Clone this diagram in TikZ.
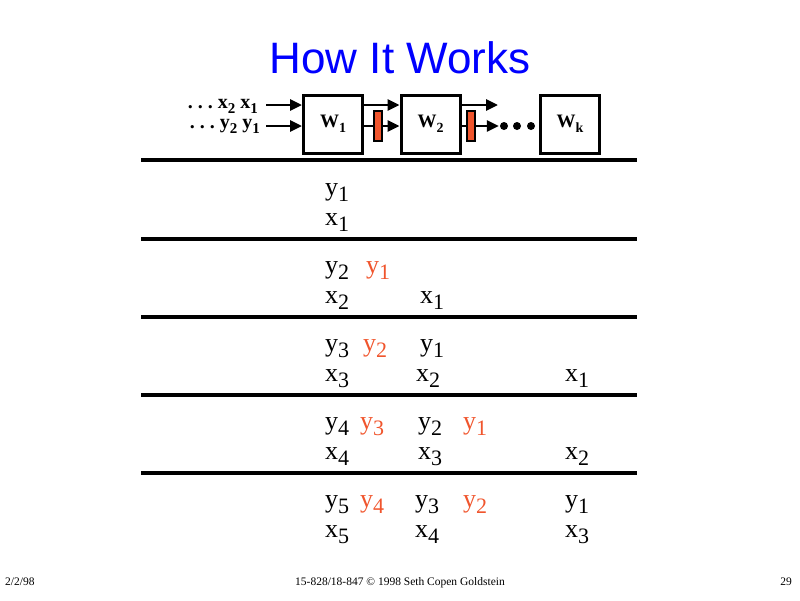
\documentclass[tikz,border=0pt]{standalone}
\usepackage{fontspec}
\setmainfont{Liberation Serif}
\newfontfamily\titlefont{Liberation Sans}
\usetikzlibrary{arrows.meta}
\usetikzlibrary{positioning}
\definecolor{latchred}{RGB}{240,85,45}
\definecolor{slideblue}{RGB}{0,0,255}
\newcommand{\lowsub}[2][22]{\raisebox{-0.25em}{\fontsize{#1}{#1}\selectfont #2}}
\newcommand{\spreaddots}{.\kern5pt.\kern5pt.\kern5pt}
\tikzstyle{cell}=[inner sep=0pt, anchor=base west, font=\fontsize{26}{26}\selectfont]
\tikzstyle{unit}=[draw, line width=3pt, minimum width=59pt, minimum height=58pt, inner sep=0pt, font=\fontsize{19}{19}\selectfont\bfseries]
\tikzstyle{latch}=[draw, line width=1.6pt, fill=latchred, minimum width=8pt, minimum height=30pt, inner sep=0pt]
\tikzstyle{bead}=[circle, fill=black, minimum size=8pt, inner sep=0pt]
\tikzstyle{wire}=[line width=2.8pt]
\tikzstyle{feed}=[wire, -{Triangle[length=12pt,width=11pt]}]
\tikzstyle{rule}=[line width=3.2pt]
\tikzstyle{foot}=[inner sep=0pt, font=\fontsize{11.5}{11.5}\selectfont]

\begin{document}
\begin{tikzpicture}[x=1pt,y=-1pt]
  \useasboundingbox (0,0) rectangle (800,600);

  \node[anchor=base, text=slideblue, font=\titlefont\fontsize{44}{44}\selectfont] (title) at (400,73) {How It Works};

  % pipeline
  \node[unit] (w1) at (333,124) {W\lowsub[14]{1}};
  \node[unit] (w2) at (430.5,124) {W\lowsub[14]{2}};
  \node[unit] (wk) at (570,124) {W\lowsub[14]{k}};
  \node[latch] (latch1) at (378,126) {};
  \node[latch] (latch2) at (471,126) {};
  \foreach \xx/\name in {504/d1, 517/d2, 531/d3}
    \node[bead] (\name) at (\xx,126) {};

  \node[anchor=base east, inner sep=0pt, font=\fontsize{20}{20}\selectfont\bfseries] (inx) at (258,108) {\spreaddots x\lowsub[15]{2} x\lowsub[15]{1}};
  \node[anchor=base east, inner sep=0pt, font=\fontsize{20}{20}\selectfont\bfseries] (iny) at (260,128) {\spreaddots y\lowsub[15]{2} y\lowsub[15]{1}};
  \coordinate (inxend) at (266,105);
  \coordinate (inyend) at (266,126);
  \coordinate (w2out) at (498,105);

  \draw[feed] (inxend) -- ([yshift=19pt]w1.west);
  \draw[feed] (inyend) -- ([yshift=-2pt]w1.west);
  \draw[feed] ([yshift=19pt]w1.east) -- ([yshift=19pt]w2.west);
  \draw[wire] ([yshift=-2pt]w1.east) -- (latch1.west);
  \draw[feed] (latch1.east) -- ([yshift=-2pt]w2.west);
  \draw[feed] ([yshift=19pt]w2.east) -- (w2out);
  \draw[wire] ([yshift=-2pt]w2.east) -- (latch2.west);
  \draw[feed, shorten >=1pt] (latch2.east) -- (d1);

  % time steps
  \foreach \yy in {160, 239, 317, 395, 473}
    \draw[rule] (141,\yy) -- (637,\yy);

  \foreach \pos/\name/\var/\idx/\col in {
      {(325,195)/r1y1/y/1/black}, {(325,225)/r1x1/x/1/black},
      {(325,273)/r2y2/y/2/black}, {(366,273)/r2y1/y/1/latchred},
      {(325,303)/r2x2/x/2/black}, {(420,303)/r2x1/x/1/black},
      {(325,351)/r3y3/y/3/black}, {(363,351)/r3y2/y/2/latchred}, {(420,351)/r3y1/y/1/black},
      {(325,381)/r3x3/x/3/black}, {(416,381)/r3x2/x/2/black}, {(565,381)/r3x1/x/1/black},
      {(325,429)/r4y4/y/4/black}, {(360,429)/r4y3/y/3/latchred}, {(418,429)/r4y2/y/2/black}, {(463,429)/r4y1/y/1/latchred},
      {(325,459)/r4x4/x/4/black}, {(418,459)/r4x3/x/3/black}, {(565,459)/r4x2/x/2/black},
      {(325,507)/r5y5/y/5/black}, {(360,507)/r5y4/y/4/latchred}, {(415,507)/r5y3/y/3/black}, {(463,507)/r5y2/y/2/latchred}, {(565,507)/r5y1/y/1/black},
      {(325,537)/r5x5/x/5/black}, {(415,537)/r5x4/x/4/black}, {(565,537)/r5x3/x/3/black}}
    \node[cell, text=\col] (\name) at \pos {\var\lowsub{\idx}};

  % footer
  \node[foot, anchor=base west] (date) at (5,585) {2/2/98};
  \node[foot, anchor=base] (credit) at (400,585) {15-828/18-847 \textcopyright\ 1998 Seth Copen Goldstein};
  \node[foot, anchor=base east] (page) at (792,585) {29};
\end{tikzpicture}
\end{document}
